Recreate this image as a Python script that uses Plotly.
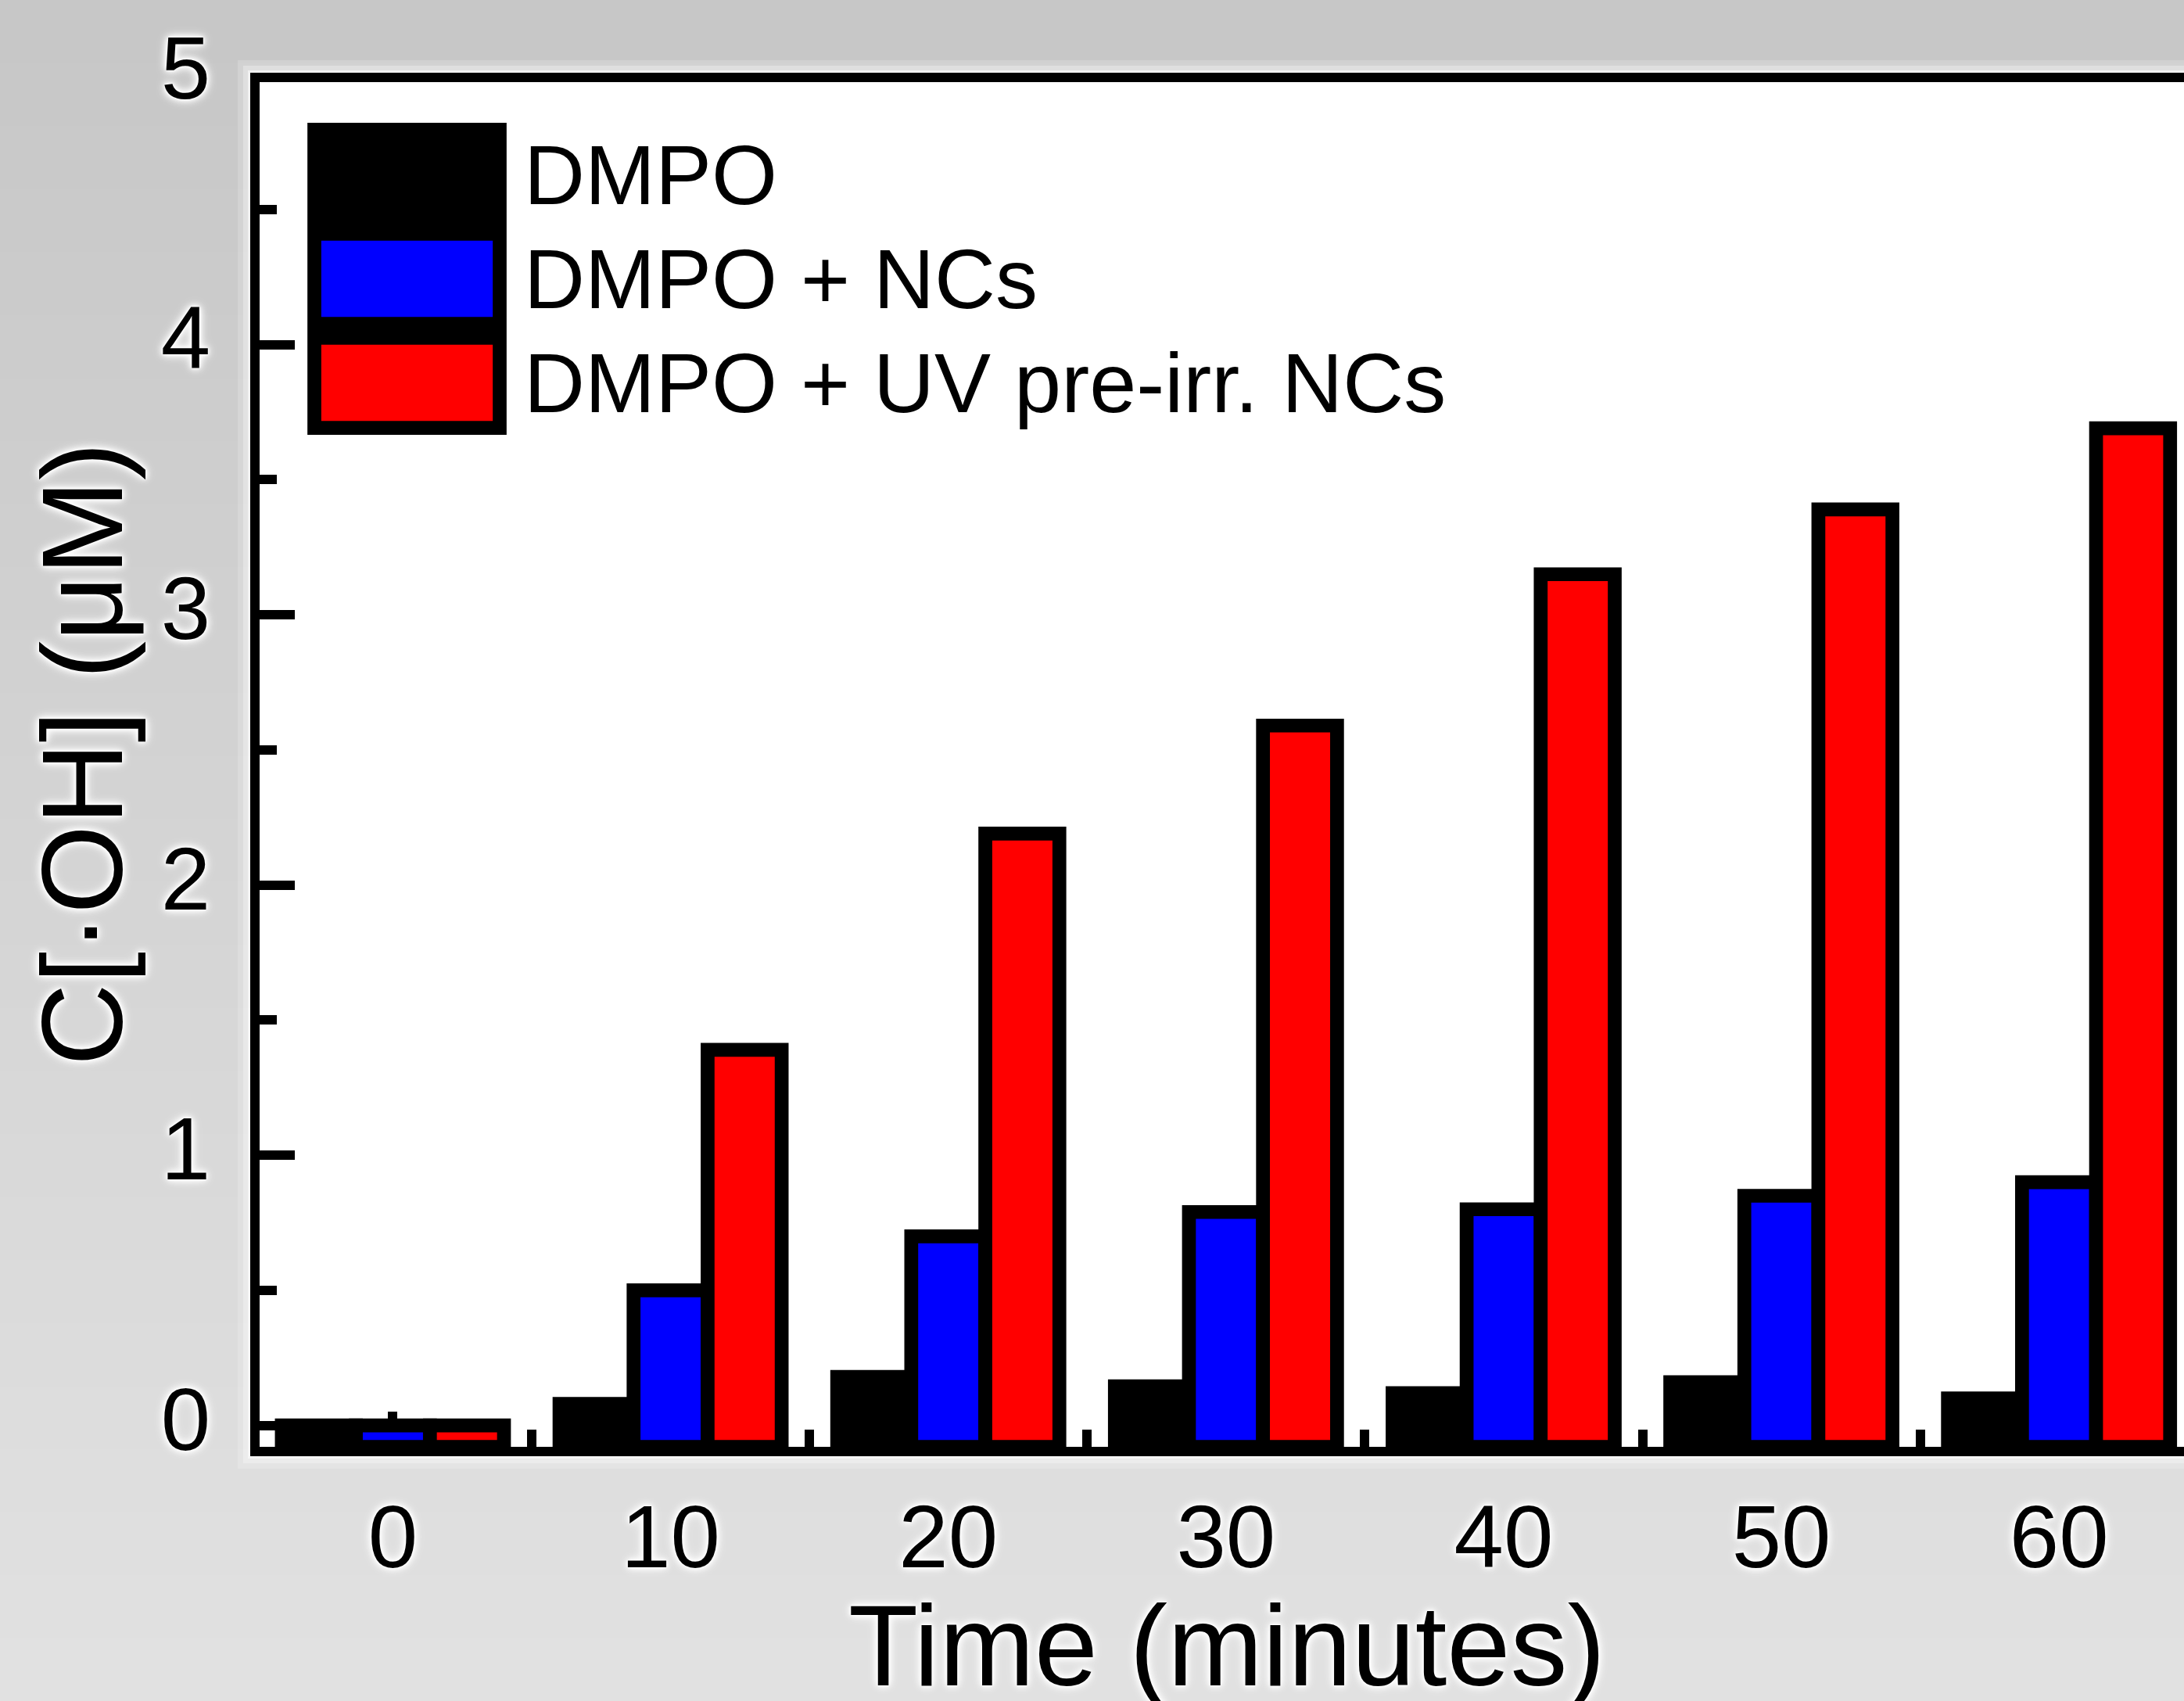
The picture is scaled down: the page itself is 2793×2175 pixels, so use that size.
import plotly.graph_objects as go

# ---------------- data ----------------
times = [0, 10, 20, 30, 40, 50, 60]
series_names = ["DMPO", "DMPO + NCs", "DMPO + UV pre-irr. NCs"]
dmpo = [0.0, 0.08, 0.18, 0.145, 0.12, 0.16, 0.10]
dmpo_ncs = [0.0, 0.50, 0.70, 0.79, 0.80, 0.85, 0.90]
dmpo_uv_ncs = [0.0, 1.39, 2.19, 2.59, 3.15, 3.39, 3.69]
series_values = [dmpo, dmpo_ncs, dmpo_uv_ncs]
series_colors = ["#000000", "#0000ff", "#ff0000"]
x_tick_vals = [0, 10, 20, 30, 40, 50, 60]
y_tick_vals = [0, 1, 2, 3, 4, 5]

# ---------------- geometry ----------------
W, H = 2793, 2175
L, R, T, B = 332, 0, 95, 325
pw, ph = W - L - R, H - T - B
Y_MIN, Y_MAX = -0.079, 5.0
X_MIN, X_MAX = -4.8, 64.5
FONT = "Liberation Sans, Arial, Helvetica, sans-serif"
GLOW = ("0px 0px 3px white, 0px 0px 5px white, 0px 0px 8px white, "
        "0px 0px 12px white, 0px 0px 16px rgba(255,255,255,0.8)")
LW = 17.7


def px(xp):
    return (xp - L) / pw


def py(yp):
    return (H - B - yp) / ph


fig = go.Figure()
for name, vals, col in zip(series_names, series_values, series_colors):
    fig.add_trace(go.Bar(
        x=times,
        y=[v - Y_MIN for v in vals],
        base=Y_MIN,
        name=name,
        marker=dict(color=col, line=dict(color="black", width=LW)),
        showlegend=False,
    ))

shapes = []
# background vertical gradient (light gray)
levels = list(range(0xc7, 0xe2))
n = len(levels)
for i, lv in enumerate(levels):
    y0p = H * i / n
    y1p = H * (i + 1) / n + 1
    c = "#%02x%02x%02x" % (lv, lv, lv)
    shapes.append(dict(type="rect", xref="paper", yref="paper",
                       x0=px(0), x1=px(W), y0=py(y1p), y1=py(y0p),
                       fillcolor=c, line=dict(width=0), layer="below"))
# soft white glow around the frame
frame_top = py(99)
for w, op in [(44, 0.18), (30, 0.3), (18, 0.55)]:
    shapes.append(dict(type="rect", xref="paper", yref="paper",
                       x0=px(326), x1=1.05, y0=py(1856), y1=frame_top,
                       fillcolor="rgba(0,0,0,0)",
                       line=dict(color="rgba(255,255,255,%g)" % op, width=w),
                       layer="below"))
# white plot area
shapes.append(dict(type="rect", xref="paper", yref="paper",
                   x0=0, x1=1.05, y0=0, y1=frame_top,
                   fillcolor="white", line=dict(width=0), layer="below"))
# top frame line
shapes.append(dict(type="line", xref="paper", yref="paper",
                   x0=px(320), x1=1.0, y0=frame_top, y1=frame_top,
                   line=dict(color="black", width=12), layer="above"))

# legend swatches
box_top = 157
box_h = 133
for i, col in enumerate(series_colors):
    t = box_top + i * box_h + LW / 2
    b = box_top + (i + 1) * box_h - LW / 2
    shapes.append(dict(type="rect", xref="paper", yref="paper",
                       x0=px(402), x1=px(639), y0=py(b), y1=py(t),
                       fillcolor=col, line=dict(color="black", width=LW),
                       layer="above"))

annotations = []
for i, name in enumerate(series_names):
    yc = box_top + i * box_h + box_h / 2
    annotations.append(dict(text=name, xref="paper", yref="paper",
                            x=px(668), y=py(yc), xanchor="left", yanchor="middle",
                            showarrow=False,
                            font=dict(family=FONT, size=108, color="black")))
# axis titles
annotations.append(dict(text="C[·OH] (μM)", xref="paper", yref="paper",
                        x=px(105), y=py(964), xanchor="center", yanchor="middle",
                        textangle=-90, showarrow=False,
                        font=dict(family=FONT, size=146, color="black", shadow=GLOW)))
annotations.append(dict(text="Time (minutes)", xref="paper", yref="paper",
                        x=px(1569), y=py(2104), xanchor="center", yanchor="middle",
                        showarrow=False,
                        font=dict(family=FONT, size=146, color="black", shadow=GLOW)))

fig.update_layout(
    width=W, height=H,
    margin=dict(l=L, r=R, t=T, b=B, pad=0),
    paper_bgcolor="#d4d4d4",
    plot_bgcolor="rgba(0,0,0,0)",
    barmode="group",
    bargap=0.2,
    bargroupgap=0,
    shapes=shapes,
    annotations=annotations,
    showlegend=False,
    font=dict(family=FONT, color="black"),
)
fig.update_xaxes(
    range=[X_MIN, X_MAX], tickmode="array", tickvals=x_tick_vals,
    ticktext=[str(v) for v in x_tick_vals],
    showline=True, linecolor="black", linewidth=12, mirror=False,
    ticks="inside", ticklen=45, tickwidth=12, tickcolor="black",
    minor=dict(ticks="inside", ticklen=22, tickwidth=12, tickcolor="black",
               dtick=5, tick0=0),
    showgrid=False, zeroline=False, layer="below traces",
    tickfont=dict(family=FONT, size=114, color="black", shadow=GLOW),
    ticklabelstandoff=5,
)
fig.update_yaxes(
    range=[Y_MIN, Y_MAX], tickmode="array", tickvals=y_tick_vals,
    ticktext=[str(v) for v in y_tick_vals],
    showline=True, linecolor="black", linewidth=12, mirror=False,
    ticks="inside", ticklen=45, tickwidth=12, tickcolor="black",
    minor=dict(ticks="inside", ticklen=22, tickwidth=12, tickcolor="black",
               dtick=0.5, tick0=0),
    showgrid=False, zeroline=False, layer="below traces",
    tickfont=dict(family=FONT, size=114, color="black", shadow=GLOW),
    ticklabelstandoff=28,
    ticklabelshift=-9,
)

fig.write_html("out.html")
